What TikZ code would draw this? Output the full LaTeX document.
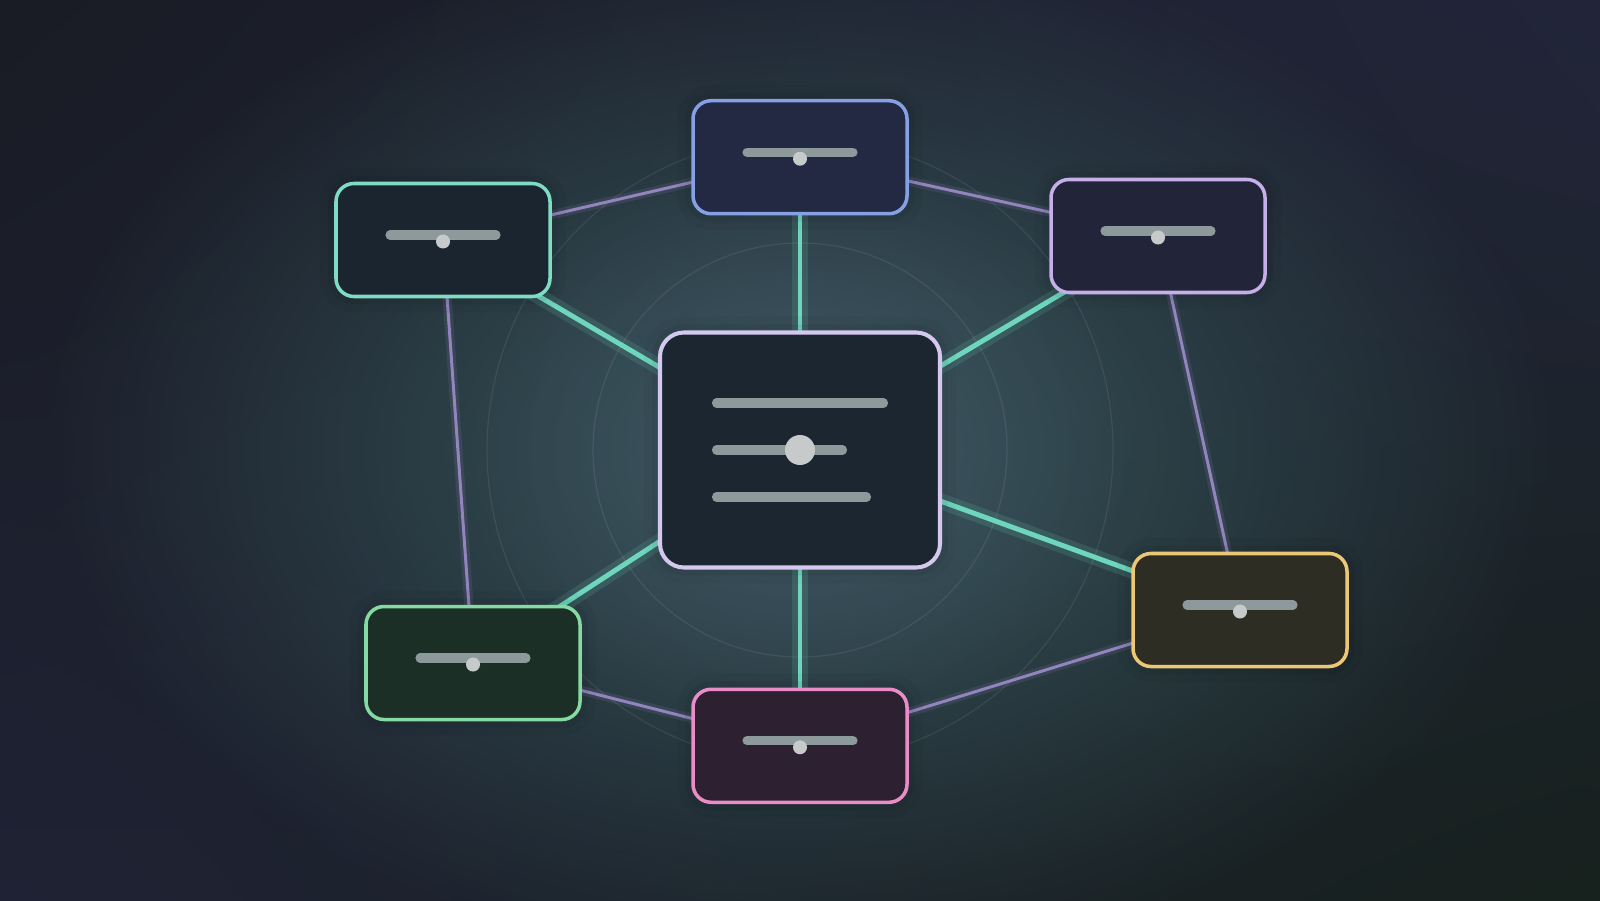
\documentclass[tikz,border=0pt]{standalone}
\usetikzlibrary{positioning,fadings,backgrounds,shadings}

\definecolor{bgA}{HTML}{191C24}
\definecolor{bgB}{HTML}{22253A}
\definecolor{bgC}{HTML}{1F2234}
\definecolor{bgD}{HTML}{17211D}
\definecolor{glowC}{HTML}{38585C}
\definecolor{coreC}{HTML}{48566A}
\definecolor{spokeC}{HTML}{6FD6BE}
\definecolor{linkC}{HTML}{9284BC}
\definecolor{barC}{HTML}{8E999B}
\definecolor{knobC}{HTML}{C6CACB}
\definecolor{hubFill}{HTML}{1B2631}
\definecolor{hubLine}{HTML}{D4C8EE}
\definecolor{topFill}{HTML}{232843}
\definecolor{topLine}{HTML}{86A0E6}
\definecolor{southFill}{HTML}{2D2131}
\definecolor{southLine}{HTML}{EA8CC8}
\definecolor{nwFill}{HTML}{1B252F}
\definecolor{nwLine}{HTML}{7FDCC4}
\definecolor{neFill}{HTML}{22243A}
\definecolor{neLine}{HTML}{C6AEE8}
\definecolor{eastFill}{HTML}{2E2D24}
\definecolor{eastLine}{HTML}{ECC775}
\definecolor{swFill}{HTML}{1B2F27}
\definecolor{swLine}{HTML}{85D9A3}

\tikzfading[name=glowfade, inner color=transparent!0, outer color=transparent!100]

\tikzstyle{card} = [rectangle, rounded corners=0.18cm, minimum width=2.14cm, minimum height=1.13cm, inner sep=0pt, line width=1pt,
  preaction={draw=black, draw opacity=0.035, line width=9pt},
  preaction={draw=black, draw opacity=0.05, line width=4.5pt}]
\tikzstyle{hubcard} = [card, rounded corners=0.24cm, minimum width=2.8cm, minimum height=2.35cm, line width=1.15pt, fill=hubFill, draw=hubLine]
\tikzstyle{spoke} = [draw=spokeC, line width=1.4pt, preaction={draw=spokeC, draw opacity=0.15, line width=4.5pt}]
\tikzstyle{link} = [draw=linkC, line width=0.85pt, preaction={draw=linkC, draw opacity=0.15, line width=2.6pt}]
\tikzstyle{ring} = [draw=white, draw opacity=0.08, line width=0.35pt]
\tikzstyle{bar} = [draw=barC, line width=2.6pt, line cap=round]

\newcommand{\slider}[1]{%
  \draw[bar] ([xshift=-0.53cm,yshift=0.05cm]#1.center) -- ([xshift=0.53cm,yshift=0.05cm]#1.center);
  \fill[knobC] ([yshift=-0.015cm]#1.center) circle (0.07cm);}

\begin{document}
\begin{tikzpicture}
\useasboundingbox (0,0) rectangle (16,9);

\node (hub) [hubcard] at (8,4.5) {};
\node (top) [card, fill=topFill, draw=topLine, above=1.15cm of hub] {};
\node (south) [card, fill=southFill, draw=southLine, below=1.18cm of hub] {};
\node (nw) [card, fill=nwFill, draw=nwLine] at (4.43,6.60) {};
\node (ne) [card, fill=neFill, draw=neLine] at (11.58,6.64) {};
\node (east) [card, fill=eastFill, draw=eastLine] at (12.40,2.90) {};
\node (sw) [card, fill=swFill, draw=swLine] at (4.73,2.37) {};

% hub content
\draw[bar] ([xshift=-0.835cm,yshift=0.47cm]hub.center) -- ([xshift=0.835cm,yshift=0.47cm]hub.center);
\draw[bar] ([xshift=-0.835cm]hub.center) -- ([xshift=0.425cm]hub.center);
\draw[bar] ([xshift=-0.835cm,yshift=-0.47cm]hub.center) -- ([xshift=0.665cm,yshift=-0.47cm]hub.center);
\fill[knobC] (hub.center) circle (0.15cm);

\slider{top}
\slider{south}
\slider{nw}
\slider{ne}
\slider{east}
\slider{sw}

\begin{scope}[on background layer]
\shade[upper left=bgA, upper right=bgB, lower left=bgC, lower right=bgD] (0,0) rectangle (16,9);
\fill[glowC, path fading=glowfade] (hub.center) ellipse (7.6 and 5.2);
\fill[coreC, path fading=glowfade, fill opacity=0.55] (hub.center) ellipse (3.4 and 3);
\draw[ring] (hub.center) circle (2.07);
\draw[ring] (hub.center) circle (3.13);
% outer ring
\draw[link] (nw.center) -- (top.center);
\draw[link] (top.center) -- (ne.center);
\draw[link] (ne.center) -- (east.center);
\draw[link] (east.center) -- (south.center);
\draw[link] (south.center) -- (sw.center);
\draw[link] (sw.center) -- (nw.center);
% spokes
\draw[spoke] (hub.center) -- (top.center);
\draw[spoke] (hub.center) -- (ne.center);
\draw[spoke] (hub.center) -- (east.center);
\draw[spoke] (hub.center) -- (south.center);
\draw[spoke] (hub.center) -- (sw.center);
\draw[spoke] (hub.center) -- (nw.center);
\end{scope}
\end{tikzpicture}
\end{document}
